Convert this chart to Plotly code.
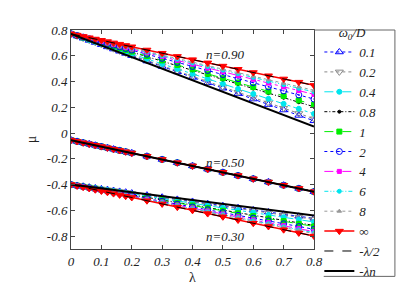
import plotly.graph_objects as go

# ---------------- data ----------------
lam = [0, 0.02, 0.04, 0.06, 0.08, 0.10, 0.12, 0.14, 0.16, 0.18, 0.20,
       0.25, 0.30, 0.35, 0.40, 0.45, 0.50, 0.55, 0.60, 0.65, 0.70, 0.75, 0.80]

series_names = ["0.1", "0.2", "0.4", "0.8", "1", "2", "4", "6", "8", "∞"]

# n = 0.90
mu90_01 = [.770, .753, .736, .719, .703, .686, .669, .652, .635, .618, .601, .559, .517, .475, .432, .390, .348, .306, .264, .221, .179, .137, .095]
mu90_02 = [.770, .754, .737, .721, .704, .688, .671, .655, .638, .622, .605, .564, .523, .482, .440, .399, .358, .317, .276, .234, .193, .152, .111]
mu90_04 = [.770, .755, .739, .723, .708, .692, .677, .661, .646, .630, .615, .576, .537, .498, .460, .421, .382, .343, .304, .266, .227, .188, .149]
mu90_08 = [.770, .756, .742, .728, .713, .699, .685, .671, .657, .643, .628, .593, .558, .522, .487, .451, .416, .381, .345, .310, .274, .239, .204]
mu90_1 = [.770, .756, .742, .729, .715, .701, .687, .674, .660, .646, .632, .598, .564, .529, .495, .460, .426, .392, .357, .323, .288, .254, .220]
mu90_2 = [.770, .757, .745, .732, .719, .707, .694, .682, .669, .656, .644, .612, .580, .549, .517, .486, .454, .422, .391, .359, .328, .296, .264]
mu90_4 = [.770, .758, .747, .735, .723, .711, .699, .688, .676, .664, .652, .623, .594, .564, .535, .505, .476, .447, .417, .388, .358, .329, .300]
mu90_6 = [.770, .759, .747, .736, .725, .714, .702, .691, .680, .669, .657, .629, .601, .573, .544, .516, .488, .460, .432, .403, .375, .347, .319]
mu90_8 = [.770, .759, .748, .737, .726, .715, .704, .693, .682, .671, .660, .633, .606, .578, .551, .523, .496, .469, .441, .414, .386, .359, .332]
mu90_inf = [.770, .760, .750, .740, .730, .720, .710, .700, .690, .680, .670, .645, .620, .595, .570, .545, .520, .495, .470, .445, .420, .395, .370]

# n = 0.50 (all curves coincide)
mu50 = [-.055, -.065, -.075, -.085, -.095, -.105, -.115, -.125, -.135, -.145, -.155,
        -.180, -.205, -.230, -.255, -.280, -.305, -.330, -.355, -.380, -.405, -.430, -.455]

# n = 0.30
mu30_01 = [-.400, -.407, -.413, -.420, -.426, -.433, -.439, -.446, -.453, -.459, -.466, -.482, -.498, -.515, -.531, -.548, -.564, -.580, -.597, -.613, -.630, -.646, -.662]
mu30_02 = [-.400, -.407, -.414, -.420, -.427, -.434, -.441, -.447, -.454, -.461, -.468, -.485, -.501, -.518, -.535, -.552, -.569, -.586, -.603, -.620, -.637, -.654, -.670]
mu30_04 = [-.400, -.407, -.414, -.422, -.429, -.436, -.443, -.451, -.458, -.465, -.472, -.491, -.509, -.527, -.545, -.563, -.581, -.599, -.617, -.635, -.653, -.672, -.690]
mu30_08 = [-.400, -.408, -.416, -.424, -.432, -.440, -.448, -.455, -.463, -.471, -.479, -.499, -.519, -.539, -.558, -.578, -.598, -.618, -.638, -.657, -.677, -.697, -.717]
mu30_1 = [-.400, -.408, -.416, -.424, -.432, -.441, -.449, -.457, -.465, -.473, -.481, -.502, -.522, -.542, -.562, -.583, -.603, -.623, -.644, -.664, -.684, -.705, -.725]
mu30_2 = [-.400, -.409, -.417, -.426, -.435, -.443, -.452, -.461, -.469, -.478, -.487, -.509, -.530, -.552, -.574, -.595, -.617, -.639, -.660, -.682, -.704, -.726, -.747]
mu30_4 = [-.400, -.409, -.418, -.427, -.437, -.446, -.455, -.464, -.473, -.482, -.491, -.514, -.537, -.560, -.582, -.605, -.628, -.651, -.674, -.696, -.719, -.742, -.765]
mu30_6 = [-.400, -.409, -.419, -.428, -.437, -.447, -.456, -.466, -.475, -.484, -.494, -.517, -.540, -.564, -.587, -.611, -.634, -.657, -.681, -.704, -.728, -.751, -.774]
mu30_8 = [-.400, -.410, -.419, -.429, -.438, -.448, -.457, -.467, -.476, -.486, -.495, -.519, -.543, -.567, -.590, -.614, -.638, -.662, -.686, -.709, -.733, -.757, -.781]
mu30_inf = [-.40, -.41, -.42, -.43, -.44, -.45, -.46, -.47, -.48, -.49, -.50, -.525, -.55, -.575, -.60, -.625, -.65, -.675, -.70, -.725, -.75, -.775, -.80]

# reference lines (end points)
lam_ends = [0, 0.8]
half90 = [0.77, 0.37]
n90 = [0.77, 0.05]
half50 = [-0.055, -0.455]
n50 = [-0.055, -0.455]
half30 = [-0.40, -0.80]
n30 = [-0.40, -0.64]

x_ticks = [0, 0.1, 0.2, 0.3, 0.4, 0.5, 0.6, 0.7, 0.8]
x_ticktext = ["0", "0.1", "0.2", "0.3", "0.4", "0.5", "0.6", "0.7", "0.8"]
y_ticks = [0.8, 0.6, 0.4, 0.2, 0, -0.2, -0.4, -0.6, -0.8]
y_ticktext = ["0.8", "0.6", "0.4", "0.2", "0", "-0.2", "-0.4", "-0.6", "-0.8"]

group_labels = ["n=0.90", "n=0.50", "n=0.30"]
group_label_lam = [0.51, 0.51, 0.51]
group_label_mu = [0.61, -0.225, -0.80]

# ---------------- styles ----------------
styles = {
    "0.1": dict(color="#0000ff", dash="dot", symbol="triangle-up-open", size=7),
    "0.2": dict(color="#888888", dash="dot", symbol="triangle-down-open", size=7),
    "0.4": dict(color="#00e5ee", dash="dashdot", symbol="circle", size=5),
    "0.8": dict(color="#000000", dash="3px,2px,1px,2px", symbol="circle", size=3),
    "1": dict(color="#00ee00", dash="dash", symbol="square", size=5),
    "2": dict(color="#0000ff", dash="dot", symbol="circle-open-dot", size=6),
    "4": dict(color="#ff00ff", dash="dashdot", symbol="square", size=4),
    "6": dict(color="#00e5ee", dash="4px,2px,1px,2px,1px,2px", symbol="circle", size=4),
    "8": dict(color="#999999", dash="dot", symbol="triangle-up", size=4),
    "∞": dict(color="#ff0000", dash="solid", symbol="triangle-down", size=7),
}

groups = [
    [mu90_01, mu90_02, mu90_04, mu90_08, mu90_1, mu90_2, mu90_4, mu90_6, mu90_8, mu90_inf],
    [mu50] * 10,
    [mu30_01, mu30_02, mu30_04, mu30_08, mu30_1, mu30_2, mu30_4, mu30_6, mu30_8, mu30_inf],
]

fig = go.Figure()
for gi, grp in enumerate(groups):
    for name, ys in zip(series_names, grp):
        st = styles[name]
        fig.add_trace(go.Scatter(
            x=lam, y=ys, mode="lines+markers", name=name, legendgroup=name,
            showlegend=(gi == 0),
            line=dict(color=st["color"], dash=st["dash"], width=1.5 if name == "∞" else 1),
            marker=dict(symbol=st["symbol"], size=st["size"], color=st["color"],
                        line=dict(color=st["color"], width=1)),
        ))

for gi, h in enumerate([half90, half50, half30]):
    fig.add_trace(go.Scatter(x=lam_ends, y=h, mode="lines", name="-λ/2", legendgroup="half",
                             showlegend=(gi == 0), line=dict(color="black", dash="dash", width=1)))
for gi, nn in enumerate([n90, n50, n30]):
    fig.add_trace(go.Scatter(x=lam_ends, y=nn, mode="lines", name="-λn", legendgroup="nline",
                             showlegend=(gi == 0), line=dict(color="black", width=2)))

serif = "Liberation Serif, Times New Roman, serif"
for txt, xx, yy in zip(group_labels, group_label_lam, group_label_mu):
    fig.add_annotation(x=xx, y=yy, text="<i>" + txt + "</i>", showarrow=False,
                       font=dict(family=serif, size=13, color="#222"))

# legend frame (left side below the axes is left open so it does not cross the 0.8 tick label)
fig.add_shape(type="path", xref="paper", yref="paper",
              path="M 1 1 L 1.333 1 L 1.333 -0.125 L 1.04 -0.125",
              line=dict(color="#666", width=1))

axis_common = dict(showline=True, mirror="ticks", linecolor="#444", linewidth=1,
                   ticks="inside", ticklen=4, tickcolor="#444", showgrid=False, zeroline=False,
                   tickfont=dict(family=serif, size=13, style="italic", color="#222"))

fig.update_layout(
    width=409, height=286,
    margin=dict(l=63, r=103, t=15, b=38),
    paper_bgcolor="white", plot_bgcolor="white",
    xaxis=dict(range=[0, 0.8], tickvals=x_ticks, ticktext=x_ticktext,
               title=dict(text="λ", standoff=4, font=dict(family=serif, size=14, color="#222")),
               **axis_common),
    yaxis=dict(range=[-0.9, 0.8], tickvals=y_ticks, ticktext=y_ticktext,
               title=dict(text="μ", standoff=6, font=dict(family=serif, size=14, color="#222")),
               **axis_common),
    legend=dict(x=1.022, xanchor="left", y=1.045, yanchor="top", bgcolor="rgba(0,0,0,0)",
                borderwidth=0, tracegroupgap=0, itemwidth=30, maxheight=285,
                font=dict(family=serif, size=13, style="italic", color="#222"),
                title=dict(text="<i>ω<sub>0</sub>/D</i>", side="top center",
                           font=dict(family=serif, size=13, color="#222"))),
)

fig.write_html("out.html")
